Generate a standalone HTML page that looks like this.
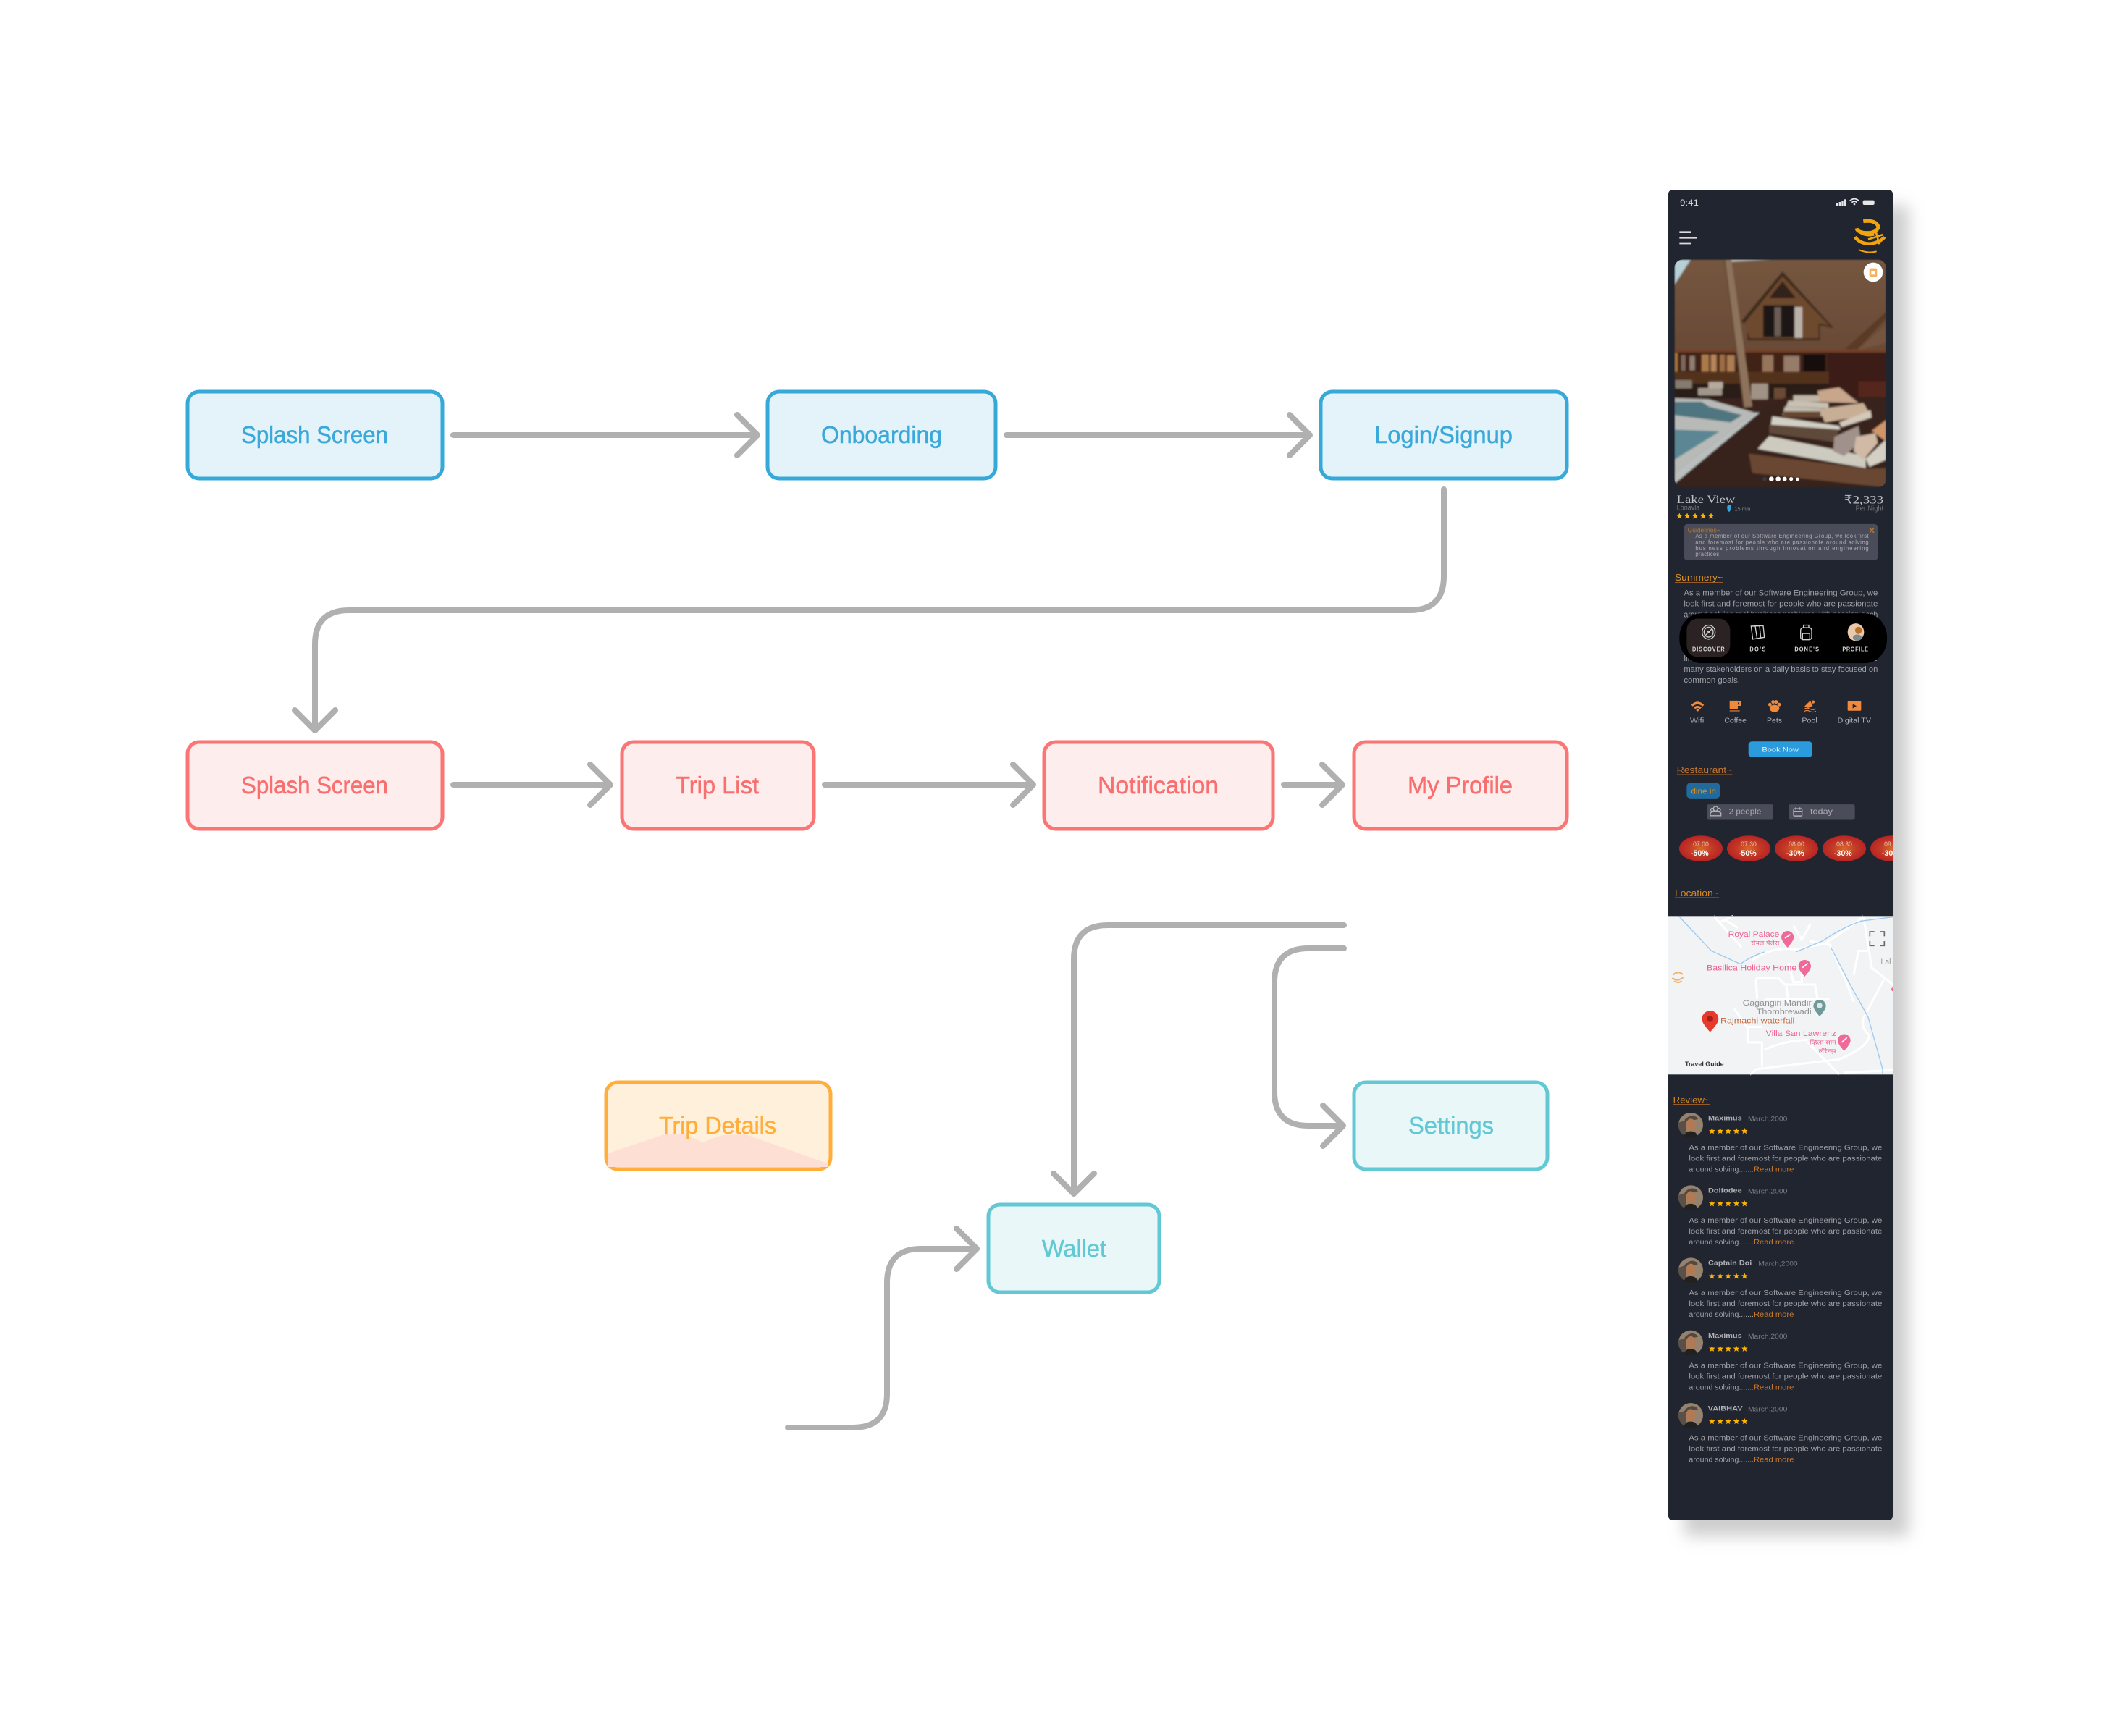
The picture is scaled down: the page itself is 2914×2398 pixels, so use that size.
<!DOCTYPE html>
<html lang="en"><head><meta charset="utf-8"><title>User flow diagram</title>
<style>
html,body{margin:0;padding:0;background:#fff}
svg{display:block}
text{font-family:"Liberation Sans","Noto Sans CJK SC",sans-serif}
.serif{font-family:"Liberation Serif",serif}
.box{stroke-width:5}
.lbl{font-size:33px;text-anchor:start;stroke-width:.5}
.conn{fill:none;stroke:#b0b0b0;stroke-width:8;stroke-linecap:round;stroke-linejoin:round}
.b{fill:#e4f3fa;stroke:#36a9d9}.bt{fill:#3aa9da;stroke:#3aa9da}
.r{fill:#feeded;stroke:#fb7575}.rt{fill:#f96e6e;stroke:#f96e6e}
.o{fill:#fff0db;stroke:#ffae3b}.ot{fill:#ffae3b;stroke:#ffae3b}
.t{fill:#e9f7f9;stroke:#62c9d4}.tt{fill:#62c9d4;stroke:#62c9d4}
.rv{font-size:30px;fill:#a0a0a6}
.rm{font-size:30px;fill:#c8782a}
.nm{font-size:27px;font-weight:bold;fill:#b0b0b4}
.dt{font-size:27px;fill:#7d7e84}
.h{font-size:37px}
.nv{font-size:22px;font-weight:bold;fill:#d8d8d8}
.am{font-size:28px;fill:#b0b0b6}
.pt{font-size:26px;fill:#e8c8b0;text-anchor:middle}
.pp{font-size:32px;font-weight:bold;fill:#fff;text-anchor:middle}
.mp{font-size:34px;fill:#f0608f}
.md{font-size:24px;fill:#f0608f}
</style></head><body>
<svg xmlns="http://www.w3.org/2000/svg" width="2914" height="2398" viewBox="0 0 2914 2398">
<defs>
<filter id="sh" x="-20%" y="-10%" width="140%" height="120%"><feGaussianBlur stdDeviation="11"/></filter>
<filter id="bl" x="-2%" y="-2%" width="104%" height="104%"><feGaussianBlur stdDeviation="4"/></filter>
<polygon id="st" points="0,-13 3.6,-4.4 13,-4 5.8,2 8.2,11.5 0,6.4 -8.2,11.5 -5.8,2 -13,-4 -3.6,-4.4" fill="#ffb300"/>
<clipPath id="ph"><rect x="97" y="355" width="878" height="945" rx="36"/></clipPath>
<clipPath id="sc"><rect x="2304" y="262" width="310" height="1838" rx="6"/></clipPath>
<radialGradient id="pg"><stop offset="0" stop-color="#d9682a"/><stop offset=".55" stop-color="#c23a26"/><stop offset="1" stop-color="#b82424"/></radialGradient>
<linearGradient id="roof" x1="0" y1="0" x2="0" y2="1"><stop offset="0" stop-color="#75563f"/><stop offset="1" stop-color="#694a37"/></linearGradient>
<g id="avatar">
<circle r="51" fill="#94826f"/>
<path d="M-51,0A51,51 0 0 0 -20,47L-20,-20L-51,-10Z" fill="#5a5048"/>
<path d="M-25,-22Q0,-48 25,-32L30,-24L-25,-12Z" fill="#54483e"/>
<ellipse cx="0" cy="0" rx="20" ry="26" fill="#b07a55"/>
<path d="M-30,50Q-22,24 0,26Q24,26 28,48Q0,58 -30,50Z" fill="#23211f"/>
</g>
</defs>
<rect width="2914" height="2398" fill="#fff"/>

<!-- connectors -->
<g class="conn">
<path d="M626 601H1046M1018 573L1046 601L1018 629"/>
<path d="M1390 601H1809M1781 573L1809 601L1781 629"/>
<path d="M1994 676V796Q1994 843 1947 843H482Q435 843 435 890V1009M407 981L435 1009L463 981"/>
<path d="M626 1084H843M815 1056L843 1084L815 1112"/>
<path d="M1139 1084H1427M1399 1056L1427 1084L1399 1112"/>
<path d="M1773 1084H1854M1826 1056L1854 1084L1826 1112"/>
<path d="M1856 1278H1530Q1483 1278 1483 1325V1649M1455 1621L1483 1649L1511 1621"/>
<path d="M1856 1310H1807Q1760 1310 1760 1357V1508Q1760 1555 1807 1555H1855M1827 1527L1855 1555L1827 1583"/>
<path d="M1088 1972H1178Q1225 1972 1225 1925V1772Q1225 1725 1272 1725H1349M1321 1697L1349 1725L1321 1753"/>
</g>

<!-- boxes -->
<rect class="box b" x="259" y="541" width="352" height="120" rx="16"/>
<text class="lbl bt" x="333" y="612" textLength="203" lengthAdjust="spacingAndGlyphs">Splash Screen</text>
<rect class="box b" x="1060" y="541" width="315" height="120" rx="16"/>
<text class="lbl bt" x="1134" y="612" textLength="167" lengthAdjust="spacingAndGlyphs">Onboarding</text>
<rect class="box b" x="1824" y="541" width="340" height="120" rx="16"/>
<text class="lbl bt" x="1898" y="612" textLength="191" lengthAdjust="spacingAndGlyphs">Login/Signup</text>

<rect class="box r" x="259" y="1025" width="352" height="120" rx="16"/>
<text class="lbl rt" x="333" y="1096" textLength="203" lengthAdjust="spacingAndGlyphs">Splash Screen</text>
<rect class="box r" x="859" y="1025" width="265" height="120" rx="16"/>
<text class="lbl rt" x="933" y="1096" textLength="115" lengthAdjust="spacingAndGlyphs">Trip List</text>
<rect class="box r" x="1442" y="1025" width="316" height="120" rx="16"/>
<text class="lbl rt" x="1516" y="1096" textLength="167" lengthAdjust="spacingAndGlyphs">Notification</text>
<rect class="box r" x="1870" y="1025" width="294" height="120" rx="16"/>
<text class="lbl rt" x="1944" y="1096" textLength="145" lengthAdjust="spacingAndGlyphs">My Profile</text>

<rect class="box o" x="837" y="1495" width="310" height="120" rx="16"/>
<polygon points="840,1593 917,1567 947,1567 970,1578 997,1568 1030,1567 1143,1607 1143,1612 840,1612" fill="#fde0d3"/>
<text class="lbl ot" x="910" y="1566" textLength="162" lengthAdjust="spacingAndGlyphs">Trip Details</text>
<rect class="box t" x="1870" y="1495" width="267" height="120" rx="16"/>
<text class="lbl tt" x="1945" y="1566" textLength="118" lengthAdjust="spacingAndGlyphs">Settings</text>
<rect class="box t" x="1365" y="1664" width="236" height="121" rx="16"/>
<text class="lbl tt" x="1439" y="1736" textLength="89" lengthAdjust="spacingAndGlyphs">Wallet</text>

<!-- phone -->
<rect x="2326" y="284" width="310" height="1838" rx="6" fill="#bdbdbd" opacity=".75" filter="url(#sh)"/>
<rect x="2304" y="262" width="310" height="1838" rx="6" fill="#212530"/>
<g clip-path="url(#sc)">

<!-- section 1 -->
<g transform="translate(2280,240) scale(.33333)">
<text x="120" y="132" font-size="36" fill="#dcdcdc" textLength="78" lengthAdjust="spacingAndGlyphs">9:41</text>
<g fill="#e6e6e6"><rect x="768" y="122" width="7" height="10"/><rect x="779" y="117" width="7" height="15"/><rect x="790" y="112" width="7" height="20"/><rect x="801" y="106" width="7" height="26"/><rect x="878" y="110" width="48" height="19" rx="6"/><circle cx="843" cy="126" r="4"/></g>
<path d="M824 112Q843 96 862 112M832 119Q843 110 854 119" fill="none" stroke="#e6e6e6" stroke-width="5"/>
<g stroke="#dcdcdc" stroke-width="8"><path d="M118 242H168M118 265H191M118 288H168"/></g>
<g fill="none" stroke="#f0a50e">
<path d="M880 197Q935 190 943 222Q930 250 880 244Q855 240 852 226" stroke-width="15"/>
<path d="M845 262Q870 292 910 290Q950 284 968 262" stroke-width="14"/>
<path d="M860 315Q900 332 935 322" stroke-width="6"/>
<path d="M900 272L962 252M932 240L946 292" stroke-width="8"/>
<path d="M855 232Q880 262 925 252" stroke-width="10"/>
</g>
<g clip-path="url(#ph)"><g filter="url(#bl)">
<rect x="97" y="355" width="878" height="945" fill="#3a241a"/>
<rect x="97" y="355" width="878" height="385" fill="url(#roof)"/>
<polygon points="97,355 165,355 97,460" fill="#b7cfd6"/>
<polygon points="332,355 500,355 330,364" fill="#c8ccc6"/>
<polygon points="545,405 374,612 400,628 400,690 700,690 700,628 758,640" fill="#3d2a1f"/>
<polygon points="545,425 388,618 410,682 695,682 695,620 740,630" fill="#6d4a2e"/>
<polygon points="545,445 490,515 600,515" fill="#33241a"/>
<rect x="465" y="545" width="130" height="132" fill="#1f1813"/>
<rect x="512" y="553" width="26" height="120" fill="#6a5d54"/>
<rect x="595" y="552" width="32" height="128" fill="#b9b1a8"/>
<polygon points="800,730 975,572 975,600 840,745" fill="#5c3a28"/>
<polygon points="850,735 975,625 975,700" fill="#75553f"/>
<rect x="97" y="728" width="878" height="12" fill="#74422a"/>
<rect x="97" y="740" width="878" height="90" fill="#3f2416"/>
<rect x="97" y="742" width="14" height="80" fill="#a8723a"/>
<rect x="125" y="752" width="18" height="64" fill="#7d6b5d"/>
<rect x="160" y="755" width="22" height="60" fill="#8f7f70"/>
<rect x="210" y="750" width="30" height="70" fill="#ab7a4b"/>
<rect x="248" y="750" width="24" height="70" fill="#b6855a"/>
<rect x="285" y="750" width="22" height="70" fill="#9f6d42"/>
<rect x="315" y="752" width="32" height="68" fill="#ab7d52"/>
<rect x="462" y="752" width="45" height="76" fill="#97755b"/>
<rect x="550" y="755" width="65" height="80" fill="#987c6a"/>
<rect x="632" y="750" width="90" height="85" fill="#15100d"/>
<rect x="735" y="745" width="240" height="190" fill="#3a1e14"/>
<rect x="860" y="860" width="115" height="120" fill="#54271a"/>
<rect x="97" y="820" width="640" height="50" fill="#53301f"/>
<rect x="97" y="870" width="640" height="60" fill="#2c1c14"/>
<rect x="100" y="855" width="70" height="35" rx="4" fill="#857b70"/>
<rect x="195" y="888" width="100" height="30" rx="4" fill="#a0968a"/>
<rect x="238" y="862" width="60" height="28" rx="4" fill="#b4aa9f"/>
<rect x="415" y="870" width="70" height="65" rx="5" fill="#a09386"/>
<rect x="510" y="888" width="48" height="45" fill="#6a4a34"/>
<polygon points="97,1300 97,1250 430,990 560,925 975,925 975,1300" fill="#38231b"/>
<polygon points="97,930 240,935 430,990 97,1240" fill="#b8bab7"/>
<polygon points="97,945 210,945 240,965 378,1000 330,1030 97,1000" fill="#4f7580"/>
<polygon points="97,1060 285,1068 97,1185" fill="#5a8793"/>
<polygon points="97,1240 430,990 450,990 97,1285" fill="#b9bfbd"/>
<polygon points="590,918 700,918 700,945 590,945" fill="#c0b6a8"/>
<polygon points="570,940 735,950 735,972 560,965" fill="#c8c1b4"/>
<polygon points="555,965 760,975 700,1008 545,1000" fill="#c4bdb0"/>
<rect x="548" y="985" width="155" height="25" fill="#684731"/>
<polygon points="490,1040 780,1060 760,1112 490,1075" fill="#5f4a3b"/>
<polygon points="503,1005 780,1045 785,1060 497,1040" fill="#d2cfc4"/>
<polygon points="405,1160 890,1222 975,1220 975,1300 420,1240" fill="#694733"/>
<polygon points="490,1087 890,1170 890,1220 442,1140" fill="#cdcabf"/>
<polygon points="690,900 780,885 860,950 700,945" fill="#c8a68c"/>
<polygon points="700,975 880,950 910,1000 720,1030" fill="#c9ae96"/>
<polygon points="780,1030 910,980 915,1010 790,1050" fill="#d4c8b8"/>
<polygon points="760,1090 860,1045 870,1110 800,1170 755,1150" fill="#a0928a"/>
<polygon points="850,1090 930,1075 940,1115 880,1185 840,1150" fill="#d0baa6"/>
<polygon points="890,1180 975,1100 975,1185 905,1215" fill="#d4d0c4"/>
<polygon points="915,1065 975,1020 975,1110" fill="#d0966a"/>
<polygon points="305,355 333,355 420,965 385,968" fill="#8e735b"/>
<path d="M305 355L385 968" stroke="#5e4636" stroke-width="5" fill="none"/>
</g></g>
<circle cx="921" cy="408" r="40" fill="#fff"/>
<rect x="905" y="392" width="32" height="36" rx="7" fill="#f4b260"/>
<rect x="913" y="404" width="16" height="14" fill="#fff"/>
<g fill="#fff"><circle cx="499" cy="1265" r="10"/><circle cx="527" cy="1265" r="10"/><circle cx="554" cy="1265" r="9"/><circle cx="581" cy="1265" r="8"/><circle cx="607" cy="1266" r="7"/></g>
<circle cx="471" cy="1265" r="9" fill="#333a44"/>
<text class="serif" x="107" y="1365" font-size="48" fill="#c2c2c6" textLength="242" lengthAdjust="spacingAndGlyphs">Lake View</text>
<text x="107" y="1394" font-size="30" fill="#74747a" textLength="95" lengthAdjust="spacingAndGlyphs">Lonavla</text>
<path d="M324 1402Q314 1390 316 1384A9 9 0 1 1 333 1384Q334 1390 324 1402Z" fill="#33a3dd"/>
<text x="347" y="1396" font-size="22" fill="#8a8a90" textLength="65" lengthAdjust="spacingAndGlyphs">15 min</text>
<text class="serif" x="800" y="1366" font-size="48" fill="#c2c2c6" textLength="163" lengthAdjust="spacingAndGlyphs">₹2,333</text>
<text x="848" y="1397" font-size="30" fill="#74747a" textLength="115" lengthAdjust="spacingAndGlyphs">Per Night</text>
<use href="#st" x="118" y="1418"/><use href="#st" x="150" y="1418"/><use href="#st" x="183" y="1418"/><use href="#st" x="216" y="1418"/><use href="#st" x="249" y="1418"/>
</g>

<!-- section 2 -->
<g transform="translate(2280,700) scale(.33333,.35714)">
<rect x="136" y="67" width="805" height="140" rx="15" fill="#4a4d59"/>
<text x="152" y="100" font-size="26" fill="#b5742e" textLength="135" lengthAdjust="spacingAndGlyphs">Guidelines~</text>
<path d="M906 82L924 100M924 82L906 100" stroke="#b5742e" stroke-width="5"/>
<g font-size="23" fill="#ababb1">
<text x="184" y="120" textLength="718" lengthAdjust="spacing">As a member of our Software Engineering Group, we look first</text>
<text x="184" y="144" textLength="718" lengthAdjust="spacing">and foremost for people who are passionate around solving</text>
<text x="184" y="168" textLength="718" lengthAdjust="spacing">business problems through innovation and engineering</text>
<text x="184" y="191" textLength="106" lengthAdjust="spacing">practices.</text>
</g>
<text class="h" x="99" y="286" fill="#e0901f" textLength="201" lengthAdjust="spacingAndGlyphs">Summery~</text>
<path d="M99 293H300" stroke="#a5622a" stroke-width="3"/>
<g font-size="30" fill="#a0a0a6">
<text x="136" y="343" textLength="804" lengthAdjust="spacingAndGlyphs">As a member of our Software Engineering Group, we</text>
<text x="136" y="385" textLength="804" lengthAdjust="spacingAndGlyphs">look first and foremost for people who are passionate</text>
<text x="136" y="427" textLength="804" lengthAdjust="spacingAndGlyphs">around solving real business problems with passion each</text>
<text x="136" y="597" textLength="804" lengthAdjust="spacingAndGlyphs">like minded engineers and partner closely with the</text>
<text x="136" y="638" textLength="804" lengthAdjust="spacingAndGlyphs">many stakeholders on a daily basis to stay focused on</text>
<text x="136" y="680" textLength="233" lengthAdjust="spacingAndGlyphs">common goals.</text>
</g>
<rect x="118" y="412" width="860" height="193" rx="92" fill="#000"/>
<rect x="148" y="433" width="180" height="148" rx="45" fill="#2b2323"/>
<g fill="none" stroke="#cfcfcf" stroke-width="4">
<circle cx="239" cy="485" r="27"/><circle cx="239" cy="485" r="19"/>
<path d="M225 498L253 472M232 480L246 490"/>
<path d="M415 462L465 460L470 505L422 512Z M432 462L440 510M450 460L455 508"/>
<rect x="620" y="468" width="46" height="46" rx="10"/><path d="M632 468V458H654V468M628 490H658V514H628Z"/>
</g>
<circle cx="849" cy="485" r="34" fill="#e9c9a9"/><circle cx="860" cy="478" r="14" fill="#b8722c"/><ellipse cx="855" cy="506" rx="18" ry="12" fill="#7d8a90"/>
<text class="nv" x="171" y="558" textLength="134" lengthAdjust="spacing">DISCOVER</text>
<text class="nv" x="409" y="558" textLength="66" lengthAdjust="spacing">DO'S</text>
<text class="nv" x="595" y="558" textLength="101" lengthAdjust="spacing">DONE'S</text>
<text class="nv" x="793" y="558" textLength="107" lengthAdjust="spacing">PROFILE</text>
<g fill="#f0893a">
<path d="M167 766Q193 742 220 766L214 772Q193 756 173 772Z"/><path d="M177 776Q193 764 210 776L204 782Q193 775 183 782Z"/><circle cx="193" cy="786" r="5"/>
<path d="M326 750H360V778Q360 784 354 784H332Q326 784 326 778Z"/><path d="M360 752H372V770H360V765H366V757H360Z"/><rect x="326" y="788" width="42" height="3"/>
<ellipse cx="512" cy="780" rx="20" ry="14"/><circle cx="493" cy="765" r="7"/><circle cx="506" cy="755" r="7"/><circle cx="519" cy="755" r="7"/><circle cx="531" cy="765" r="7"/>
<circle cx="672" cy="755" r="6"/><path d="M636 772L660 750L670 770L652 778Z"/><path d="M636 782Q646 776 658 782T684 782M636 791Q646 785 658 791T684 791" fill="none" stroke="#f0893a" stroke-width="3"/>
<rect x="815" y="752" width="56" height="37" rx="4"/>
</g>
<polygon points="836,762 852,771 836,780" fill="#212530"/>
<text class="am" x="162" y="836" textLength="58" lengthAdjust="spacingAndGlyphs">Wifi</text>
<text class="am" x="304" y="836" textLength="92" lengthAdjust="spacingAndGlyphs">Coffee</text>
<text class="am" x="480" y="836" textLength="63" lengthAdjust="spacingAndGlyphs">Pets</text>
<text class="am" x="625" y="836" textLength="64" lengthAdjust="spacingAndGlyphs">Pool</text>
<text class="am" x="773" y="836" textLength="139" lengthAdjust="spacingAndGlyphs">Digital TV</text>
<rect x="404" y="908" width="265" height="60" rx="14" fill="#2a9bdc"/>
<text x="460" y="948" font-size="27" fill="#e8f4fb" textLength="152" lengthAdjust="spacingAndGlyphs">Book Now</text>
<text class="h" x="107" y="1030" fill="#c9762c" textLength="230" lengthAdjust="spacingAndGlyphs">Restaurant~</text>
<path d="M107 1036H337" stroke="#a5622a" stroke-width="3"/>
<rect x="148" y="1068" width="138" height="60" rx="14" fill="#22699c"/>
<text x="166" y="1110" font-size="32" fill="#e2921f" textLength="104" lengthAdjust="spacingAndGlyphs">dine in</text>
<rect x="232" y="1151" width="275" height="60" rx="8" fill="#4a4d59"/>
<g fill="none" stroke="#b0b0b6" stroke-width="4"><circle cx="268" cy="1168" r="9"/><circle cx="254" cy="1172" r="6"/><circle cx="282" cy="1172" r="6"/><path d="M246 1195V1184Q268 1172 290 1184V1195Z"/></g>
<text x="323" y="1188" font-size="32" fill="#a8a8ae" textLength="134" lengthAdjust="spacingAndGlyphs">2 people</text>
<rect x="570" y="1151" width="275" height="60" rx="8" fill="#4a4d59"/>
<g fill="none" stroke="#b0b0b6" stroke-width="4"><rect x="591" y="1168" width="35" height="28" rx="4"/><path d="M591 1178H626M600 1163V1172M617 1163V1172"/></g>
<text x="660" y="1188" font-size="32" fill="#a8a8ae" textLength="93" lengthAdjust="spacingAndGlyphs">today</text>
<ellipse cx="207" cy="1322" rx="90" ry="50" fill="url(#pg)"/>
<ellipse cx="405" cy="1322" rx="90" ry="50" fill="url(#pg)"/>
<ellipse cx="603" cy="1322" rx="90" ry="50" fill="url(#pg)"/>
<ellipse cx="801" cy="1322" rx="90" ry="50" fill="url(#pg)"/>
<ellipse cx="999" cy="1322" rx="90" ry="50" fill="url(#pg)"/>
<text class="pt" x="207" y="1313">07:00</text><text class="pp" x="202" y="1349">-50%</text>
<text class="pt" x="405" y="1313">07:30</text><text class="pp" x="400" y="1349">-50%</text>
<text class="pt" x="603" y="1313">08:00</text><text class="pp" x="598" y="1349">-30%</text>
<text class="pt" x="801" y="1313">08:30</text><text class="pp" x="796" y="1349">-30%</text>
<text class="pt" x="999" y="1313">09:00</text><text class="pp" x="994" y="1349">-30%</text>
<text class="h" x="99" y="1507" fill="#d9861f" textLength="183" lengthAdjust="spacingAndGlyphs">Location~</text>
<path d="M99 1512H282" stroke="#a5622a" stroke-width="3"/>
</g>

<!-- map + reviews -->
<g transform="translate(2280,1240) scale(.33333)">
<rect x="72" y="76" width="930" height="657" fill="#f1f3f4"/>
<g fill="none" stroke="#fff" stroke-width="9">
<path d="M260 76L375 205M290 100L340 76M310 95L360 125M420 260Q500 200 600 215L720 190Q860 100 880 76M590 115L625 175L660 110M660 180L740 195L810 350L840 430M880 76L915 290L1002 360M965 340L880 500Q870 540 905 570Q900 620 780 670L440 710L410 733M840 320L860 220H905M570 270L590 350H625V270M435 335H530L555 360H680L690 420V490M435 335L440 420M560 360L570 440M470 420H740M345 460L400 540V600H460V700M400 535H460M470 630Q560 590 650 590M650 600L780 733M1002 715L800 725"/>
</g>
<g fill="none" stroke="#9dc9f1" stroke-width="4">
<path d="M115 76L250 220L370 275Q420 240 470 225M600 225L710 180Q780 130 870 97L1002 80M745 205L820 350L900 495L960 710V733"/>
</g>
<path d="M72 76H1002M72 733H1002" stroke="#8a8d92" stroke-width="2"/>
<text class="mp" x="320" y="162" textLength="212" lengthAdjust="spacingAndGlyphs">Royal Palace</text>
<text class="md" x="414" y="195" textLength="118" lengthAdjust="spacingAndGlyphs">रॉयल पॅलेस</text>
<text class="mp" x="231" y="302" textLength="373" lengthAdjust="spacingAndGlyphs">Basilica Holiday Home</text>
<text x="380" y="447" font-size="34" fill="#8f9394" textLength="285" lengthAdjust="spacingAndGlyphs">Gagangiri Mandir</text>
<text x="437" y="483" font-size="34" fill="#8f9394" textLength="228" lengthAdjust="spacingAndGlyphs">Thombrewadi</text>
<text x="288" y="521" font-size="34" fill="#c8683a" textLength="307" lengthAdjust="spacingAndGlyphs">Rajmachi waterfall</text>
<text class="mp" x="476" y="573" textLength="292" lengthAdjust="spacingAndGlyphs">Villa San Lawrenz</text>
<text class="md" x="657" y="608" textLength="110" lengthAdjust="spacingAndGlyphs">व्हिला सान</text>
<text class="md" x="695" y="644" textLength="72" lengthAdjust="spacingAndGlyphs">लॅरेन्झ</text>
<text x="952" y="276" font-size="32" fill="#9a9a9a">Lal</text>
<text x="141" y="697" font-size="24" font-weight="bold" fill="#333" textLength="161" lengthAdjust="spacingAndGlyphs">Travel Guide</text>
<g fill="#ef6a98">
<path d="M566 207Q540 178 540 164A26 26 0 1 1 592 164Q592 178 566 207Z"/>
<path d="M637 327Q611 298 611 284A26 26 0 1 1 663 284Q663 298 637 327Z"/>
<path d="M800 635Q774 606 774 592A26 26 0 1 1 827 592Q827 606 800 635Z"/>
<circle cx="1004" cy="380" r="8"/>
</g>
<g fill="none" stroke="#fff" stroke-width="5"><path d="M555 168L578 152M628 290L650 272M790 600L812 580"/></g>
<path d="M699 492Q673 463 673 449A26 26 0 1 1 725 449Q725 463 699 492Z" fill="#6f9a9a"/>
<circle cx="699" cy="447" r="11" fill="#dfe8e8"/>
<path d="M245 557Q211 520 211 503A34 34 0 1 1 280 503Q280 520 245 557Z" fill="#e53a2c"/>
<circle cx="245" cy="502" r="13" fill="#a81e1a"/>
<path d="M907 160V141H926M948 141H967V160M967 180V199H948M926 199H907V180" fill="none" stroke="#6f6a66" stroke-width="5"/>
<g fill="none" stroke="#f2b260" stroke-width="6"><path d="M92 320Q112 300 132 318M88 333Q112 350 134 330M96 346Q112 356 128 346"/></g>

<text class="h" x="92" y="850" fill="#d9861f" textLength="153" lengthAdjust="spacingAndGlyphs">Review~</text>
<path d="M92 857H245" stroke="#a5622a" stroke-width="3"/>

<g>
<use href="#avatar" x="165" y="942"/>
<text class="nm" x="237" y="922" textLength="140" lengthAdjust="spacingAndGlyphs">Maximus</text>
<text class="dt" x="402" y="925" textLength="163" lengthAdjust="spacingAndGlyphs">March,2000</text>
<use href="#st" x="253" y="967"/><use href="#st" x="287" y="967"/><use href="#st" x="320" y="967"/><use href="#st" x="354" y="967"/><use href="#st" x="388" y="967"/>
<text class="rv" x="157" y="1046" textLength="801" lengthAdjust="spacingAndGlyphs">As a member of our Software Engineering Group, we</text>
<text class="rv" x="157" y="1091" textLength="801" lengthAdjust="spacingAndGlyphs">look first and foremost for people who are passionate</text>
<text class="rv" x="157" y="1136" textLength="269" lengthAdjust="spacingAndGlyphs">around solving.......</text>
<text class="rm" x="426" y="1136" textLength="166" lengthAdjust="spacingAndGlyphs">Read more</text>
</g>
<g transform="translate(0,300.6)">
<use href="#avatar" x="165" y="942"/>
<text class="nm" x="237" y="922" textLength="140" lengthAdjust="spacingAndGlyphs">Doifodee</text>
<text class="dt" x="402" y="925" textLength="163" lengthAdjust="spacingAndGlyphs">March,2000</text>
<use href="#st" x="253" y="967"/><use href="#st" x="287" y="967"/><use href="#st" x="320" y="967"/><use href="#st" x="354" y="967"/><use href="#st" x="388" y="967"/>
<text class="rv" x="157" y="1046" textLength="801" lengthAdjust="spacingAndGlyphs">As a member of our Software Engineering Group, we</text>
<text class="rv" x="157" y="1091" textLength="801" lengthAdjust="spacingAndGlyphs">look first and foremost for people who are passionate</text>
<text class="rv" x="157" y="1136" textLength="269" lengthAdjust="spacingAndGlyphs">around solving.......</text>
<text class="rm" x="426" y="1136" textLength="166" lengthAdjust="spacingAndGlyphs">Read more</text>
</g>
<g transform="translate(0,601)">
<use href="#avatar" x="165" y="942"/>
<text class="nm" x="237" y="922" textLength="181" lengthAdjust="spacingAndGlyphs">Captain Doi</text>
<text class="dt" x="445" y="925" textLength="163" lengthAdjust="spacingAndGlyphs">March,2000</text>
<use href="#st" x="253" y="967"/><use href="#st" x="287" y="967"/><use href="#st" x="320" y="967"/><use href="#st" x="354" y="967"/><use href="#st" x="388" y="967"/>
<text class="rv" x="157" y="1046" textLength="801" lengthAdjust="spacingAndGlyphs">As a member of our Software Engineering Group, we</text>
<text class="rv" x="157" y="1091" textLength="801" lengthAdjust="spacingAndGlyphs">look first and foremost for people who are passionate</text>
<text class="rv" x="157" y="1136" textLength="269" lengthAdjust="spacingAndGlyphs">around solving.......</text>
<text class="rm" x="426" y="1136" textLength="166" lengthAdjust="spacingAndGlyphs">Read more</text>
</g>
<g transform="translate(0,902)">
<use href="#avatar" x="165" y="942"/>
<text class="nm" x="237" y="922" textLength="140" lengthAdjust="spacingAndGlyphs">Maximus</text>
<text class="dt" x="402" y="925" textLength="163" lengthAdjust="spacingAndGlyphs">March,2000</text>
<use href="#st" x="253" y="967"/><use href="#st" x="287" y="967"/><use href="#st" x="320" y="967"/><use href="#st" x="354" y="967"/><use href="#st" x="388" y="967"/>
<text class="rv" x="157" y="1046" textLength="801" lengthAdjust="spacingAndGlyphs">As a member of our Software Engineering Group, we</text>
<text class="rv" x="157" y="1091" textLength="801" lengthAdjust="spacingAndGlyphs">look first and foremost for people who are passionate</text>
<text class="rv" x="157" y="1136" textLength="269" lengthAdjust="spacingAndGlyphs">around solving.......</text>
<text class="rm" x="426" y="1136" textLength="166" lengthAdjust="spacingAndGlyphs">Read more</text>
</g>
<g transform="translate(0,1203)">
<use href="#avatar" x="165" y="942"/>
<text class="nm" x="236" y="922" textLength="144" lengthAdjust="spacingAndGlyphs">VAIBHAV</text>
<text class="dt" x="402" y="925" textLength="163" lengthAdjust="spacingAndGlyphs">March,2000</text>
<use href="#st" x="253" y="967"/><use href="#st" x="287" y="967"/><use href="#st" x="320" y="967"/><use href="#st" x="354" y="967"/><use href="#st" x="388" y="967"/>
<text class="rv" x="157" y="1046" textLength="801" lengthAdjust="spacingAndGlyphs">As a member of our Software Engineering Group, we</text>
<text class="rv" x="157" y="1091" textLength="801" lengthAdjust="spacingAndGlyphs">look first and foremost for people who are passionate</text>
<text class="rv" x="157" y="1136" textLength="269" lengthAdjust="spacingAndGlyphs">around solving.......</text>
<text class="rm" x="426" y="1136" textLength="166" lengthAdjust="spacingAndGlyphs">Read more</text>
</g>
</g>
</g>
</svg>
</body></html>
